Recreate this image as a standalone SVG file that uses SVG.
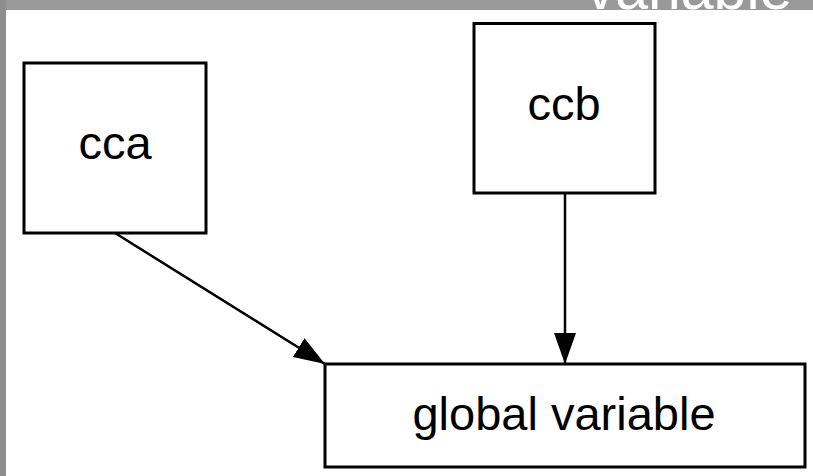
<svg xmlns="http://www.w3.org/2000/svg" width="813" height="476" viewBox="0 0 813 476">
<style>
.box{fill:none;stroke:#000;stroke-width:3}
.lbl{font-family:"Liberation Sans",Arial,sans-serif;font-size:47px;fill:#000;text-anchor:middle}
.edge{stroke:#000;stroke-width:2.5;fill:none}
</style>
<defs>
<marker id="ah" viewBox="0 0 31 22" refX="31" refY="11" markerWidth="31" markerHeight="22" markerUnits="userSpaceOnUse" orient="auto">
<path d="M0,0 L31,11 L0,22 Z" fill="#000"/>
</marker>
</defs>
<rect x="0" y="0" width="813" height="476" fill="#ffffff"/>
<rect x="0" y="0" width="813" height="10" fill="#999999"/>
<rect x="0" y="0" width="6" height="476" fill="#8e8e8e"/>
<text x="689" y="9" font-family="'Liberation Sans',Arial,sans-serif" font-size="59" fill="#ffffff" text-anchor="middle">variable</text>
<g id="connectors">
<line class="edge" x1="115" y1="233" x2="325" y2="364" marker-end="url(#ah)"/>
<line class="edge" x1="565" y1="193" x2="565" y2="364" marker-end="url(#ah)"/>
</g>
<g id="cca">
<rect class="box" x="24" y="63" width="182" height="170"/>
<text class="lbl" x="115" y="159">cca</text>
</g>
<g id="ccb">
<rect class="box" x="474" y="23.5" width="181" height="169.5"/>
<text class="lbl" x="564" y="120">ccb</text>
</g>
<g id="global">
<rect class="box" x="325" y="364" width="480" height="103"/>
<text class="lbl" x="564" y="430">global variable</text>
</g>
</svg>
